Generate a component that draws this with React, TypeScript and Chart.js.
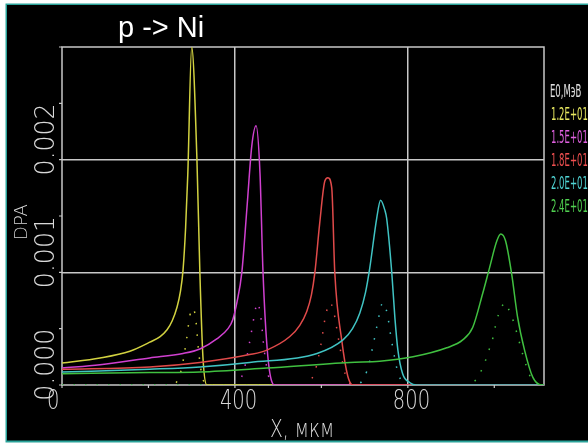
import { useEffect, useRef } from "react";
import { Chart, registerables } from "chart.js";
Chart.register(...registerables);

const X_MAX = 1115;
const Y_MAX = 0.003;

// Main DPA curves, one per initial energy
const e12X = [0, 88, 157, 203, 227, 243, 255, 266, 274, 280, 286, 291, 300, 312, 319, 326, 335, 1115];
const e12Y = [0.000195, 0.00024, 0.0003, 0.00038, 0.00043, 0.00049, 0.00057, 0.00069, 0.00083, 0.00102, 0.0014, 0.00187, 0.003, 0.00202, 0.00099, 0.00025, 0, 0];
const e15X = [0, 88, 203, 280, 319, 358, 384, 395, 405, 416, 428, 439, 449, 458, 465, 476, 492, 1115];
const e15Y = [0.00015, 0.00018, 0.00024, 0.00028, 0.00032, 0.00041, 0.0005, 0.00058, 0.00074, 0.001, 0.00158, 0.00212, 0.0023, 0.00188, 0.001, 0.00026, 0, 0];
const e18X = [0, 203, 319, 434, 474, 527, 550, 566, 577, 585, 596, 608, 615, 624, 631, 647, 661, 673, 1115];
const e18Y = [0.00014, 0.00016, 0.0002, 0.00027, 0.00031, 0.00043, 0.00053, 0.00065, 0.0008, 0.001, 0.00143, 0.00181, 0.00184, 0.00175, 0.001, 0.0004, 0.00008, 0, 0];
const e20X = [0, 203, 319, 434, 590, 650, 672, 689, 702, 712, 728, 737, 747, 751, 763, 770, 777, 788, 805, 820, 1115];
const e20Y = [0.000115, 0.00014, 0.00016, 0.0002, 0.00028, 0.0004, 0.0005, 0.00064, 0.00082, 0.00104, 0.00148, 0.00164, 0.00155, 0.00148, 0.00099, 0.0006, 0.00031, 0.0001, 0.00002, 0, 0];
const e24X = [0, 203, 319, 474, 666, 735, 812, 890, 927, 950, 973, 989, 1006, 1015, 1026, 1040, 1054, 1070, 1089, 1110, 1115];
const e24Y = [0.0001, 0.00011, 0.000115, 0.00015, 0.0002, 0.00021, 0.00025, 0.00033, 0.0004, 0.00051, 0.00081, 0.00104, 0.00128, 0.00134, 0.00128, 0.00099, 0.0006, 0.00031, 0.00007, 0, 0];

// Secondary (dotted) curves
const d12X = [0, 255, 275, 288, 296, 302, 309, 316, 326, 340, 1115];
const d12Y = [0, 0, 0.00012, 0.0004, 0.00062, 0.00068, 0.0006, 0.0003, 0.00005, 0, 0];
const d15X = [0, 400, 420, 435, 445, 452, 460, 468, 480, 495, 1115];
const d15Y = [0, 0, 0.00012, 0.0004, 0.00062, 0.00073, 0.0006, 0.0003, 0.00005, 0, 0];
const d18X = [0, 560, 585, 599, 610, 620, 628, 640, 655, 675, 1115];
const d18Y = [0, 0, 0.00012, 0.00036, 0.00062, 0.00073, 0.00066, 0.0004, 0.0001, 0, 0];
const d20X = [0, 680, 705, 720, 730, 742, 752, 762, 778, 800, 1115];
const d20Y = [0, 0, 0.00012, 0.00036, 0.00055, 0.00073, 0.00064, 0.0004, 0.0001, 0, 0];
const d24X = [0, 940, 973, 985, 997, 1006, 1017, 1024, 1031, 1043, 1066, 1075, 1095, 1115];
const d24Y = [0, 0, 0.00015, 0.00028, 0.00042, 0.00058, 0.00069, 0.00073, 0.00069, 0.00058, 0.00027, 0.00016, 0, 0];

const seriesLabels = ["1.2E+01", "1.5E+01", "1.8E+01", "2.0E+01", "2.4E+01"];
const seriesColors = ["#d2d240", "#d040d0", "#e04a4a", "#40c4c4", "#40c040"];
const legendColors = ["#e8e860", "#e060e0", "#f05050", "#50d4d4", "#50d050"];
const legendTitle = "E0,МэВ";
const chartTitle = "p -> Ni";
const xTitle = "X, мкм";
const yTitle = "DPA";
const xTickLabels = [
  { v: 0, t: "0" },
  { v: 400, t: "400" },
  { v: 800, t: "800" },
];
const yTickLabels = [
  { v: 0.0025, t: "0.002" },
  { v: 0.0015, t: "0.001" },
  { v: 0.0005, t: "0.000" },
];

const mainX = [e12X, e15X, e18X, e20X, e24X];
const mainY = [e12Y, e15Y, e18Y, e20Y, e24Y];
const dotX = [d12X, d15X, d18X, d20X, d24X];
const dotY = [d12Y, d15Y, d18Y, d20Y, d24Y];

const zip = (xs: number[], ys: number[]) => xs.map((x, i) => ({ x, y: ys[i] }));

const GRID = "#c8c8c8";
const LABEL = "#d8d8d8";
const THIN = '200 26px "DejaVu Sans"';

function drawText(
  ctx: CanvasRenderingContext2D,
  s: string,
  x: number,
  y: number,
  o: { font: string; color: string; sx?: number; align?: CanvasTextAlign; baseline?: CanvasTextBaseline; rot?: number }
) {
  ctx.save();
  ctx.translate(x, y);
  if (o.rot) ctx.rotate(o.rot);
  ctx.scale(o.sx ?? 1, 1);
  ctx.font = o.font;
  ctx.fillStyle = o.color;
  ctx.textAlign = o.align ?? "left";
  ctx.textBaseline = o.baseline ?? "alphabetic";
  ctx.fillText(s, 0, 0);
  ctx.restore();
}

const near = (a: number, b: number) => Math.abs(a - b) < 1e-9;

const framePlugin = {
  id: "frame",
  beforeDraw(chart: any) {
    const ctx = chart.ctx as CanvasRenderingContext2D;
    ctx.save();
    ctx.fillStyle = "#ffffff";
    ctx.fillRect(0, 0, chart.width, chart.height);
    ctx.fillStyle = "#2aa39a";
    ctx.fillRect(5.5, 3.5, chart.width, 439);
    ctx.fillStyle = "#000000";
    ctx.fillRect(7, 5, chart.width, 435.5);
    ctx.restore();
  },
  beforeDatasetsDraw(chart: any) {
    const ctx = chart.ctx as CanvasRenderingContext2D;
    const { left, right, top, bottom } = chart.chartArea;
    const xs = chart.scales.x;
    const ys = chart.scales.y;
    ctx.save();
    ctx.strokeStyle = GRID;
    ctx.lineWidth = 1.5;
    ctx.strokeRect(left, top, right - left, bottom - top);
    ctx.lineWidth = 1.2;
    ctx.beginPath();
    for (const t of ys.ticks) {
      const py = ys.getPixelForValue(t.value);
      ctx.moveTo(left - 3, py);
      ctx.lineTo(left, py);
    }
    for (const t of xs.ticks) {
      if (t.value >= X_MAX) continue;
      const px = xs.getPixelForValue(t.value);
      ctx.moveTo(px, bottom);
      ctx.lineTo(px, bottom + 3);
    }
    ctx.stroke();
    ctx.restore();
  },
  afterDraw(chart: any) {
    const ctx = chart.ctx as CanvasRenderingContext2D;
    const xs = chart.scales.x;
    const ys = chart.scales.y;
    const { left, right } = chart.chartArea;
    drawText(ctx, chartTitle, 118, 37, { font: '29px "Liberation Sans"', color: "#ffffff" });
    for (const l of xTickLabels) {
      drawText(ctx, l.t, xs.getPixelForValue(l.v) - 15, 409, { font: THIN, color: LABEL, sx: 0.75 });
    }
    for (const l of yTickLabels) {
      drawText(ctx, l.t, left - 15, ys.getPixelForValue(l.v), {
        font: THIN, color: LABEL, sx: 0.97, align: "right", baseline: "middle", rot: -Math.PI / 2,
      });
    }
    drawText(ctx, xTitle, 270, 437, { font: '200 25px "DejaVu Sans"', color: LABEL, sx: 0.75 });
    drawText(ctx, yTitle, 22, 222, {
      font: '200 18px "DejaVu Sans"', color: LABEL, sx: 1, align: "center", baseline: "middle", rot: -Math.PI / 2,
    });
    const lx = right + 7;
    drawText(ctx, legendTitle, lx - 1, 97, { font: '17px "DejaVu Sans"', color: "#e0e0e0", sx: 0.5 });
    seriesLabels.forEach((s, i) => {
      drawText(ctx, s, lx, 120 + i * 23, { font: '17px "DejaVu Sans"', color: legendColors[i], sx: 0.5 });
    });
  },
};

export default function App() {
  const ref = useRef<HTMLCanvasElement>(null);
  useEffect(() => {
    const datasets: any[] = [];
    seriesLabels.forEach((lab, i) => {
      datasets.push({
        label: lab,
        data: zip(mainX[i], mainY[i]),
        borderColor: seriesColors[i],
        borderWidth: 1.5,
        pointRadius: 0,
        cubicInterpolationMode: "monotone",
        fill: false,
        order: 5 - i,
      });
    });
    seriesLabels.forEach((lab, i) => {
      datasets.push({
        label: lab + " (2)",
        data: zip(dotX[i], dotY[i]),
        borderColor: seriesColors[i],
        borderWidth: 1.5,
        borderDash: [1.5, 10],
        pointRadius: 0,
        cubicInterpolationMode: "monotone",
        fill: false,
        order: 20 - i,
      });
    });
    const chart = new Chart(ref.current!, {
      type: "line",
      data: { datasets },
      options: {
        animation: false,
        responsive: false,
        maintainAspectRatio: false,
        layout: { padding: { left: 62, top: 47, right: 44, bottom: 58 } },
        plugins: { legend: { display: false }, tooltip: { enabled: false } },
        scales: {
          x: {
            type: "linear",
            min: 0,
            max: X_MAX,
            ticks: { display: false, stepSize: 200 },
            border: { display: false },
            grid: {
              drawTicks: false,
              lineWidth: 1.5,
              color: (c: any) => (near(c.tick?.value, 400) || near(c.tick?.value, 800) ? GRID : "rgba(0,0,0,0)"),
            },
          },
          y: {
            type: "linear",
            min: 0,
            max: Y_MAX,
            ticks: { display: false, stepSize: 0.0005 },
            border: { display: false },
            grid: {
              drawTicks: false,
              lineWidth: 1.5,
              color: (c: any) => (near(c.tick?.value, 0.001) || near(c.tick?.value, 0.002) ? GRID : "rgba(0,0,0,0)"),
            },
          },
        },
      },
      plugins: [framePlugin],
    });
    return () => chart.destroy();
  }, []);
  return (
    <div style={{ position: "fixed", left: 0, top: 0, width: 588, height: 443 }}>
      <canvas ref={ref} width={588} height={443} style={{ display: "block" }} />
    </div>
  );
}
